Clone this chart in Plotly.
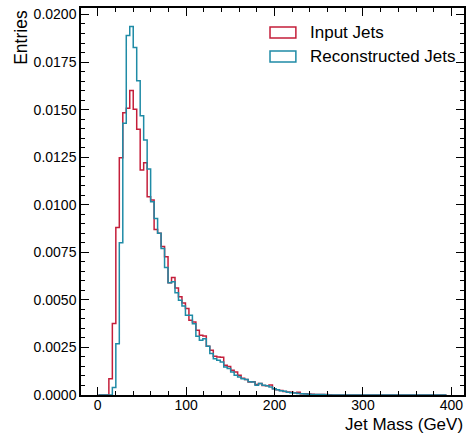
import plotly.graph_objects as go

# Histogram binning (100 equal bins)
bin_lo = 0.9
bin_width = 3.935
n_bins = 100

# Normalised entries per bin (bins beyond listed values are empty)
input_jets = [
    0, 0, 0, 0.00086, 0.00376, 0.00881, 0.01247, 0.01484, 0.01507, 0.01600,
    0.01502, 0.01397, 0.01183, 0.01221, 0.01042, 0.01025, 0.00870, 0.00850, 0.00780, 0.00726,
    0.00590, 0.00618, 0.00563, 0.00516, 0.00484, 0.00454, 0.00393, 0.00384, 0.00340, 0.00314,
    0.00310, 0.00256, 0.00235, 0.00204, 0.00200, 0.00198, 0.00156, 0.00150, 0.00130, 0.00121,
    0.00104, 0.00088, 0.00081, 0.00068, 0.00070, 0.00055, 0.00060, 0.00050, 0.00048, 0.00052,
    0.00033, 0.00027, 0.00024, 0.00018, 0.00016, 0.00014, 0.00012, 0.00015, 0.00007, 0.00006,
    0.00005, 0.00004, 0.00003, 0.00003, 0.00002, 0.00002, 0.00001,
]
reco_jets = [
    0, 0, 0, 0, 0.00039, 0.00270, 0.00800, 0.01428, 0.01889, 0.01937,
    0.01826, 0.01651, 0.01468, 0.01340, 0.01188, 0.01016, 0.00928, 0.00850, 0.00770, 0.00670,
    0.00590, 0.00595, 0.00537, 0.00498, 0.00468, 0.00419, 0.00419, 0.00375, 0.00309, 0.00288,
    0.00296, 0.00256, 0.00218, 0.00191, 0.00182, 0.00174, 0.00147, 0.00139, 0.00121, 0.00104,
    0.00095, 0.00086, 0.00081, 0.00070, 0.00068, 0.00051, 0.00060, 0.00051, 0.00048, 0.00042,
    0.00033, 0.00028, 0.00022, 0.00020, 0.00015, 0.00012, 0.00010, 0.00008, 0.00006, 0.00005,
    0.00004, 0.00003, 0.00003, 0.00002, 0.00002, 0.00001,
]
series_names = ["Input Jets", "Reconstructed Jets"]
series_colors = ["#c41e3a", "#1f8ba6"]

x_tick_vals = [0, 100, 200, 300, 400]
x_title = "Jet Mass (GeV)"
y_title = "Entries"

edges = [bin_lo + bin_width * i for i in range(n_bins + 1)]


def step_path(vals):
    v = list(vals) + [0] * (n_bins - len(vals))
    xs = [edges[0]] + edges + [edges[-1]]
    ys = [0] + v + [v[-1]] + [0]
    return xs, ys


fig = go.Figure()
for vals, name, col in zip([input_jets, reco_jets], series_names, series_colors):
    xs, ys = step_path(vals)
    fig.add_trace(go.Scatter(x=xs, y=ys, mode="lines", line=dict(color=col, width=1.5, shape="hv"),
                             name=name, showlegend=False))

FONT = "Liberation Sans, Arial, Helvetica, sans-serif"
W, H = 470, 434
ml, mr, mt, mb = 81, 4, 8, 39
pw, ph = W - ml - mr, H - mt - mb


def px(x):
    return (x - ml) / pw


def py(y):
    return 1 - (y - mt) / ph


axis_common = dict(
    showline=True, linecolor="black", linewidth=1.5, mirror="allticks",
    ticks="inside", ticklen=8, tickwidth=1, tickcolor="black",
    showgrid=False, zeroline=False,
    tickfont=dict(family=FONT, size=14, color="black"),
)

fig.update_layout(
    width=W, height=H,
    margin=dict(l=ml, r=mr, t=mt, b=mb),
    paper_bgcolor="white", plot_bgcolor="white",
    font=dict(family=FONT, size=14, color="black"),
    xaxis=dict(range=[-18.8, 414.2], tickvals=x_tick_vals, ticklabelstandoff=-4,
               minor=dict(dtick=20, tick0=0, ticklen=4, ticks="inside", tickcolor="black", tickwidth=1),
               **axis_common),
    yaxis=dict(range=[0, 0.02034], dtick=0.0025, tick0=0, tickformat=".4f",
               minor=dict(dtick=0.0005, tick0=0, ticklen=4, ticks="inside", tickcolor="black", tickwidth=1),
               **axis_common),
)

annotations = [
    dict(text=x_title, xref="paper", yref="paper", x=1.0, y=py(424), xanchor="right", yanchor="middle",
         showarrow=False, borderpad=0, font=dict(family=FONT, size=17, color="black")),
    dict(text=y_title, xref="paper", yref="paper", x=px(20), y=1.0, xanchor="center", yanchor="top",
         textangle=-90, showarrow=False, font=dict(family=FONT, size=17.5, color="black")),
]
shapes = []
legend_rows = [(27, 38, 33), (51, 62, 57)]
for (y0, y1, yc), name, col in zip(legend_rows, series_names, series_colors):
    shapes.append(dict(type="rect", xref="paper", yref="paper", x0=px(271), x1=px(297), y0=py(y1), y1=py(y0),
                       line=dict(color=col, width=1.5), fillcolor="rgba(0,0,0,0)"))
    annotations.append(dict(text=name, xref="paper", yref="paper", x=px(309), y=py(yc), xanchor="left",
                            yanchor="middle", showarrow=False, font=dict(family=FONT, size=17, color="black")))
fig.update_layout(annotations=annotations, shapes=shapes)

fig.write_html("out.html")
